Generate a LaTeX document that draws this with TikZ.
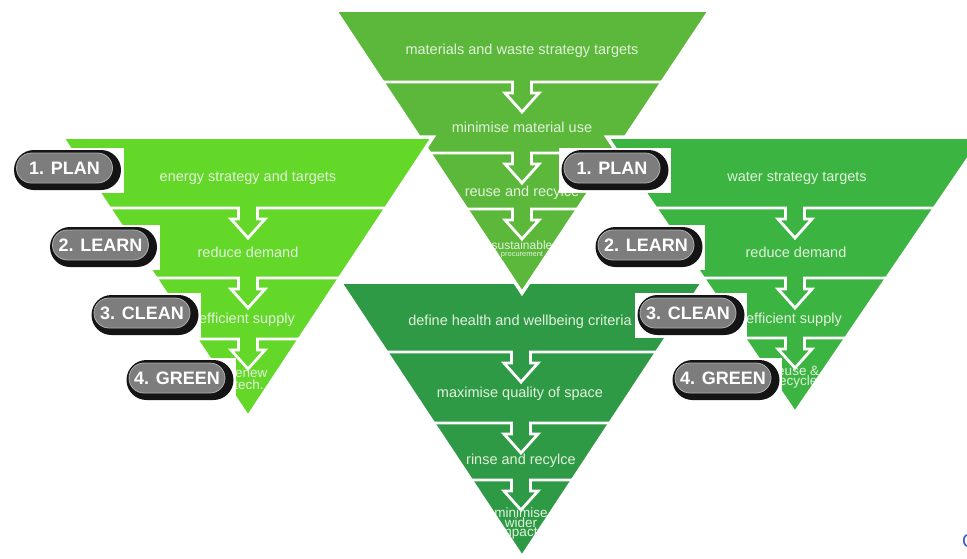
\documentclass[tikz,border=0pt]{standalone}
\usepackage{fontspec}
\setmainfont{Liberation Sans}
\usetikzlibrary{shapes.misc}
\definecolor{gTop}{RGB}{92,184,58}
\definecolor{gLeft}{RGB}{100,216,40}
\definecolor{gRight}{RGB}{60,180,66}
\definecolor{gBot}{RGB}{46,154,70}
\definecolor{txt}{RGB}{226,242,220}
\definecolor{pillblack}{RGB}{20,20,20}
\definecolor{pillgray}{RGB}{125,125,125}
\definecolor{pillrim}{RGB}{175,175,175}
\definecolor{blueC}{RGB}{50,90,200}
\newcommand\bandsep[2]{\draw[band] (#1-250,#2) -- ++(240.5,0) -- ++(0,11) -- ++(-7.5,0) -- ++(17,19) -- ++(17,-19) -- ++(-7.5,0) -- ++(0,-11) -- ++(240.5,0);}
\newcommand\pilldraw[4]{%
  \node[pillbg] (#1bg) at (#2,#3) {};
  \node[pillblk] (#1sh) at (#2,#3) {};
  \node[pillgry] (#1) at (#2-3,#3-2) {#4};}
\begin{document}
\begin{tikzpicture}[x=1pt,y=-1pt,
  band/.style={draw=white, line width=2.8pt, line join=miter},
  outl/.style={draw=white, line width=3.5pt, line join=miter},
  lbl/.style={text=txt, inner sep=0pt, anchor=base, font=\fontsize{14.5}{17}\selectfont},
  small/.style={lbl, font=\fontsize{13.5}{15}\selectfont},
  pillbg/.style={fill=white, minimum width=112pt, minimum height=45pt, inner sep=0pt},
  pillblk/.style={rounded rectangle, fill=pillblack, minimum width=107pt, minimum height=40pt, inner sep=0pt},
  pillgry/.style={rounded rectangle, fill=pillgray, draw=pillrim, line width=0.8pt, minimum width=96pt, minimum height=30pt, inner sep=0pt, text=white, font=\bfseries\fontsize{18}{20}\selectfont}
]
\useasboundingbox (0,0) rectangle (967,558);
\fill[white] (0,0) rectangle (967,558);

% bottom triangle: health and wellbeing
\begin{scope}
\clip (340,282) -- (703,282) -- (522,557) -- cycle;
\fill[gBot] (340,282) -- (703,282) -- (522,557) -- cycle;
\bandsep{521}{352}
\bandsep{521}{423}
\bandsep{521}{480}
\node[lbl] (b1) at (520,325) {define health and wellbeing criteria};
\node[lbl] (b2) at (520,397) {maximise quality of space};
\node[lbl] (b3) at (521,464) {rinse and recylce};
\node[small] (b4a) at (521,517) {minimise};
\node[small] (b4b) at (521,527) {wider};
\node[small] (b4c) at (521,536) {impacts};
\end{scope}
\draw[outl] (340,282) -- (703,282) -- (522,557) -- cycle;

% top triangle: materials and waste
\begin{scope}
\clip (335,10) -- (710,10) -- (522,293) -- cycle;
\fill[gTop] (335,10) -- (710,10) -- (522,293) -- cycle;
\bandsep{522}{82}
\bandsep{522}{153}
\bandsep{522}{209}
\node[lbl] (t1) at (522,54) {materials and waste strategy targets};
\node[lbl] (t2) at (522,132) {minimise material use};
\node[lbl] (t3) at (522,196) {reuse and recylce};
\node[lbl, font=\fontsize{12}{14}\selectfont] (t4) at (522,249) {sustainable};
\node[lbl, font=\fontsize{7.5}{9}\selectfont] (t5) at (522,256) {procurement};
\end{scope}
\draw[outl] (335,10) -- (710,10) -- (522,293) -- cycle;

% left triangle: energy
\begin{scope}
\clip (62,137) -- (433,137) -- (248,417) -- cycle;
\fill[gLeft] (62,137) -- (433,137) -- (248,417) -- cycle;
\bandsep{248}{208}
\bandsep{248}{278}
\bandsep{248}{339}
\node[lbl] (l1) at (248,181) {energy strategy and targets};
\node[lbl] (l2) at (248,257) {reduce demand};
\node[lbl] (l3) at (247,323) {efficient supply};
\node[small] (l4a) at (249,377) {renew};
\node[small] (l4b) at (249,389) {tech.};
\end{scope}
\draw[outl] (62,137) -- (433,137) -- (248,417) -- cycle;

% right triangle: water
\begin{scope}
\clip (607,137) -- (983,137) -- (795,413) -- cycle;
\fill[gRight] (607,137) -- (983,137) -- (795,413) -- cycle;
\bandsep{795}{208}
\bandsep{795}{278}
\bandsep{795}{338}
\node[lbl] (r1) at (797,181) {water strategy targets};
\node[lbl] (r2) at (796,257) {reduce demand};
\node[lbl] (r3) at (794,323) {efficient supply};
\node[small] (r4a) at (796,375) {reuse \&};
\node[small] (r4b) at (796,385) {recycle};
\end{scope}
\draw[outl] (607,137) -- (983,137) -- (795,413) -- cycle;

% step labels
\pilldraw{lp1}{67.5}{170}{1. PLAN}
\pilldraw{lp2}{103.5}{247}{2. LEARN}
\pilldraw{lp3}{145}{315}{3. CLEAN}
\pilldraw{lp4}{180}{380}{4. GREEN}
\pilldraw{rp1}{615}{170}{1. PLAN}
\pilldraw{rp2}{649}{247}{2. LEARN}
\pilldraw{rp3}{691}{315}{3. CLEAN}
\pilldraw{rp4}{726}{380}{4. GREEN}

\node[text=blueC, inner sep=0pt, anchor=base west, font=\fontsize{19}{20}\selectfont] (cc) at (962,547) {C};
\end{tikzpicture}
\end{document}
